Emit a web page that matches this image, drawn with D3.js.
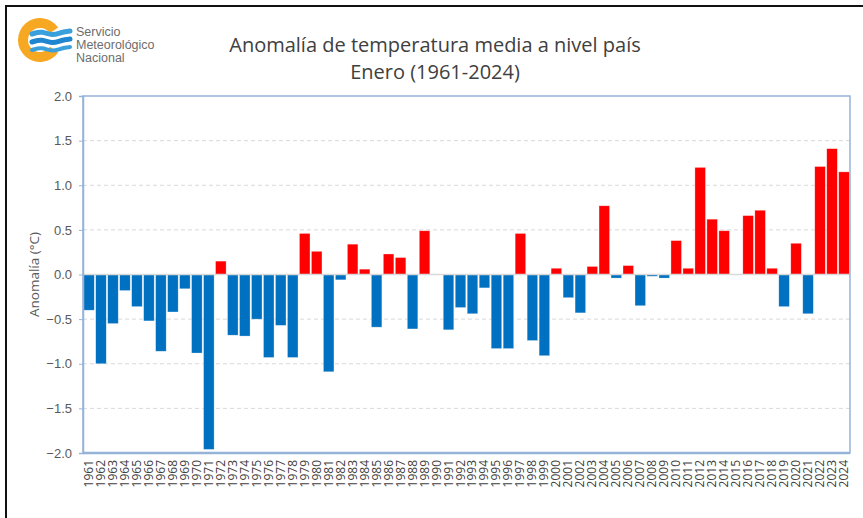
<!DOCTYPE html>
<html>

<head>
  <meta charset="utf-8">
  <title>Anomalía de temperatura media a nivel país</title>
  <style>
    body {
      margin: 0;
      background: #fff;
    }

    svg {
      display: block;
      font-family: 'Open Sans', sans-serif;
    }

    .grid line {
      stroke: #d9d9d9;
      stroke-width: 1;
      stroke-dasharray: 4, 3;
    }

    .y-axis text {
      fill: #595959;
      font-size: 13px;
    }

    .x-label {
      fill: #404040;
      font-size: 12px;
    }
  </style>
</head>

<body>
  <svg class="chart" width="863" height="518"></svg>

  <script src="https://d3js.org/d3.v7.min.js"></script>
  <script>
    // anomalias de enero, 1961-2024
    var years = d3.range(1961, 2025).map(String);
    var anomalies = [
      -0.40, -1.00, -0.55, -0.18, -0.36, -0.52, -0.86, -0.42, -0.16, -0.88,
      -1.96, 0.15, -0.68, -0.69, -0.50, -0.93, -0.57, -0.93, 0.46, 0.26,
      -1.09, -0.06, 0.34, 0.06, -0.59, 0.23, 0.19, -0.61, 0.49, 0.00,
      -0.62, -0.37, -0.44, -0.15, -0.83, -0.83, 0.46, -0.74, -0.91, 0.07,
      -0.26, -0.43, 0.09, 0.77, -0.04, 0.10, -0.35, -0.02, -0.04, 0.38,
      0.07, 1.20, 0.62, 0.49, 0.00, 0.66, 0.72, 0.07, -0.36, 0.35,
      -0.44, 1.21, 1.41, 1.15
    ];
    var yTicks = [-2, -1.5, -1, -0.5, 0, 0.5, 1, 1.5, 2];
    var titleLines = ['Anomalía de temperatura media a nivel país', 'Enero (1961-2024)'];
    var logoLines = ['Servicio', 'Meteorológico', 'Nacional'];

    var data = years.map(function(y, i) {
      return { year: y, value: anomalies[i] };
    });

    var svg = d3.select('svg.chart');
    var width = +svg.attr('width');
    var height = +svg.attr('height');

    var plot = { left: 83, right: 850, top: 96, bottom: 453 };

    var x = d3.scaleBand()
      .domain(years)
      .range([plot.left, plot.right])
      .paddingInner(0.12)
      .paddingOuter(0.06);

    var y = d3.scaleLinear()
      .domain([-2, 2])
      .range([plot.bottom, plot.top]);

    svg.append('rect')
      .attr('width', width)
      .attr('height', height)
      .attr('fill', '#fff');

    // marco negro de la imagen (solo arriba e izquierda)
    svg.append('path')
      .attr('d', 'M6,' + height + 'V6H' + width)
      .attr('fill', 'none')
      .attr('stroke', '#111')
      .attr('stroke-width', 2);

    // grilla punteada
    svg.append('g')
      .attr('class', 'grid')
      .selectAll('line')
      .data(yTicks.filter(function(t) { return t !== 0 && Math.abs(t) !== 2; }))
      .enter().append('line')
      .attr('x1', plot.left)
      .attr('x2', plot.right)
      .attr('y1', function(d) { return y(d); })
      .attr('y2', function(d) { return y(d); });

    // barras
    svg.append('g')
      .selectAll('rect')
      .data(data)
      .enter().append('rect')
      .attr('x', function(d) { return x(d.year); })
      .attr('width', x.bandwidth())
      .attr('y', function(d) { return y(Math.max(0, d.value)); })
      .attr('height', function(d) { return Math.abs(y(d.value) - y(0)); })
      .attr('fill', function(d) { return d.value > 0 ? '#ff0000' : '#0070c0'; })
      .attr('stroke', '#ffffff')
      .attr('stroke-opacity', 0.5)
      .attr('stroke-width', 0.6);

    // linea del cero
    svg.append('line')
      .attr('x1', plot.left)
      .attr('x2', plot.right)
      .attr('y1', y(0))
      .attr('y2', y(0))
      .attr('stroke', '#d9d9d9')
      .attr('stroke-width', 1.5);

    // borde del area de grafico
    svg.append('rect')
      .attr('x', plot.left)
      .attr('y', plot.top)
      .attr('width', plot.right - plot.left)
      .attr('height', plot.bottom - plot.top)
      .attr('fill', 'none')
      .attr('stroke', '#95b3d7')
      .attr('stroke-width', 1.5);

    svg.append('line')
      .attr('x1', plot.left)
      .attr('x2', plot.right)
      .attr('y1', plot.bottom)
      .attr('y2', plot.bottom)
      .attr('stroke', '#95b3d7')
      .attr('stroke-width', 2.5);

    // eje Y
    var yAxis = svg.append('g')
      .attr('class', 'y-axis')
      .attr('transform', 'translate(' + plot.left + ',0)')
      .call(d3.axisLeft(y)
        .tickValues(yTicks)
        .tickSize(4)
        .tickPadding(7)
        .tickFormat(d3.format('.1f')));

    yAxis.select('.domain').attr('stroke', '#95b3d7').attr('stroke-width', 1.5);
    yAxis.selectAll('.tick line').attr('stroke', '#95b3d7');

    svg.append('text')
      .attr('transform', 'translate(39,' + y(0) + ') rotate(-90)')
      .attr('text-anchor', 'middle')
      .attr('fill', '#595959')
      .attr('font-size', 13.5)
      .text('Anomalía (°C)');

    // etiquetas de años, verticales
    svg.append('g')
      .selectAll('text')
      .data(years)
      .enter().append('text')
      .attr('class', 'x-label')
      .attr('transform', function(d) {
        return 'translate(' + (x(d) + x.bandwidth() / 2 + 4) + ',' + (plot.bottom + 7) + ') rotate(-90)';
      })
      .attr('text-anchor', 'end')
      .text(function(d) { return d; });

    // titulo
    svg.append('g')
      .selectAll('text')
      .data(titleLines)
      .enter().append('text')
      .attr('x', 435)
      .attr('y', function(d, i) { return 52 + i * 27; })
      .attr('text-anchor', 'middle')
      .attr('fill', '#404040')
      .attr('font-size', 20)
      .text(function(d) { return d; });

    // logo SMN
    var logo = svg.append('g').attr('transform', 'translate(40,40)');

    logo.append('path')
      .attr('d', d3.arc()
        .innerRadius(12)
        .outerRadius(22)
        .startAngle(Math.PI / 2 + 0.6)
        .endAngle(Math.PI / 2 - 0.6 + 2 * Math.PI)())
      .attr('fill', '#f7a823');

    var wave = d3.line().curve(d3.curveBasis);
    [[-6, '#3aa0dc', 5], [2, '#1f86cf', 5], [10, '#3aa0dc', 4]].forEach(function(w) {
      var dy = w[0];
      logo.append('path')
        .attr('d', wave([[-8, dy], [2, dy - 3], [12, dy + 2], [22, dy - 2], [30, dy - 3]]))
        .attr('fill', 'none')
        .attr('stroke', w[1])
        .attr('stroke-width', w[2])
        .attr('stroke-linecap', 'round');
    });

    svg.append('g')
      .selectAll('text')
      .data(logoLines)
      .enter().append('text')
      .attr('x', 76)
      .attr('y', function(d, i) { return 36 + i * 13; })
      .attr('fill', '#6d6d6d')
      .attr('font-family', 'Liberation Sans, sans-serif')
      .attr('font-size', 12.5)
      .text(function(d) { return d; });
  </script>
</body>

</html>
